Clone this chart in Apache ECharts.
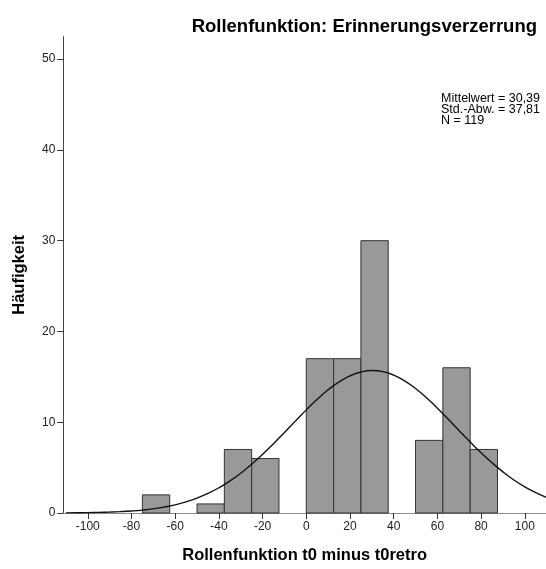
<!DOCTYPE html>
<html>
<head>
<meta charset="utf-8">
<script src="https://cdn.jsdelivr.net/npm/echarts@6/dist/echarts.min.js"></script>
<style>html,body{margin:0;padding:0;background:#fff;}#c{width:546px;height:569px;}</style>
</head>
<body>
<div id="c"></div>
<script>
// Histogram bins (left edge, width 12.5) and counts
var binStarts = [-75, -62.5, -50, -37.5, -25, -12.5, 0, 12.5, 25, 37.5, 50, 62.5, 75];
var counts    = [2, 0, 1, 7, 6, 0, 17, 17, 30, 0, 8, 16, 7];
var binWidth = 12.5;

// Fitted normal curve heights read along the x axis
var curveX = [-110,-105,-100,-95,-90,-85,-80,-75,-70,-65,-60,-55,-50,-45,-40,-35,-30,-25,-20,-15,-10,-5,0,5,10,15,20,25,30,35,40,45,50,55,60,65,70,75,80,85,90,95,100,105,110];
var curveY = [0.016,0.026,0.041,0.064,0.099,0.149,0.22,0.32,0.46,0.65,0.90,1.23,1.64,2.15,2.78,3.52,4.38,5.37,6.46,7.64,8.87,10.12,11.36,12.52,13.57,14.44,15.11,15.53,15.69,15.57,15.19,14.56,13.71,12.69,11.55,10.32,9.06,7.82,6.63,5.53,4.53,3.64,2.88,2.24,1.71];

var xTicks = [-100, -80, -60, -40, -20, 0, 20, 40, 60, 80, 100];
var yTicks = [0, 10, 20, 30, 40, 50];

var titleText = 'Rollenfunktion: Erinnerungsverzerrung';
var xName = 'Rollenfunktion t0 minus t0retro';
var yName = 'Häufigkeit';
var statsLines = ['Mittelwert = 30,39', 'Std.-Abw. = 37,81', 'N = 119'];

var FONT = 'Liberation Sans, Arial, Helvetica, sans-serif';

var barData = [];
for (var i = 0; i < binStarts.length; i++) {
  if (counts[i] > 0) barData.push([binStarts[i], binStarts[i] + binWidth, counts[i]]);
}
var lineData = curveX.map(function (x, i) { return [x, curveY[i]]; });

var chart = echarts.init(document.getElementById('c'), null, {renderer: 'canvas'});
chart.setOption({
  animation: false,
  backgroundColor: '#fff',
  title: {
    text: titleText,
    right: 4,
    top: 12,
    textStyle: {fontFamily: FONT, fontSize: 18.5, fontWeight: 'bold', color: '#000'}
  },
  grid: {left: 63.3, right: 0, top: 36.7, bottom: 52, containLabel: false},
  xAxis: {
    type: 'value',
    min: -111.2,
    max: 109.7,
    name: xName,
    nameLocation: 'middle',
    nameGap: 34,
    nameTextStyle: {fontFamily: FONT, fontSize: 16.5, fontWeight: 'bold', color: '#000'},
    splitLine: {show: false},
    axisLine: {show: true, onZero: false, lineStyle: {color: '#8c8c8c', width: 1}},
    axisTick: {show: true, length: 6, lineStyle: {color: '#333', width: 1}, customValues: xTicks},
    axisLabel: {fontFamily: FONT, fontSize: 12, color: '#222', margin: 8, customValues: xTicks}
  },
  yAxis: {
    type: 'value',
    min: 0,
    max: 52.47,
    name: yName,
    nameLocation: 'middle',
    nameGap: 35,
    nameTextStyle: {fontFamily: FONT, fontSize: 16.5, fontWeight: 'bold', color: '#000'},
    splitLine: {show: false},
    axisLine: {show: true, onZero: false, lineStyle: {color: '#444', width: 1}},
    axisTick: {show: true, length: 6, lineStyle: {color: '#333', width: 1}, customValues: yTicks},
    axisLabel: {fontFamily: FONT, fontSize: 12, color: '#222', margin: 8, customValues: yTicks}
  },
  graphic: [{
    type: 'text',
    left: 441,
    top: 92,
    style: {
      text: statsLines.join('\n'),
      font: '12.5px ' + FONT,
      fill: '#000',
      lineHeight: 11
    },
    z: 100
  }],
  series: [{
    type: 'custom',
    z: 2,
    renderItem: function (params, api) {
      var p0 = api.coord([api.value(0), 0]);
      var p1 = api.coord([api.value(1), api.value(2)]);
      return {
        type: 'rect',
        shape: {x: p0[0], y: p1[1], width: p1[0] - p0[0], height: p0[1] - p1[1]},
        style: {fill: '#999999', stroke: '#333333', lineWidth: 1}
      };
    },
    encode: {x: [0, 1], y: 2},
    data: barData
  }, {
    type: 'line',
    z: 5,
    smooth: true,
    showSymbol: false,
    symbol: 'none',
    lineStyle: {color: '#111', width: 1.4},
    data: lineData
  }]
});
</script>
</body>
</html>
